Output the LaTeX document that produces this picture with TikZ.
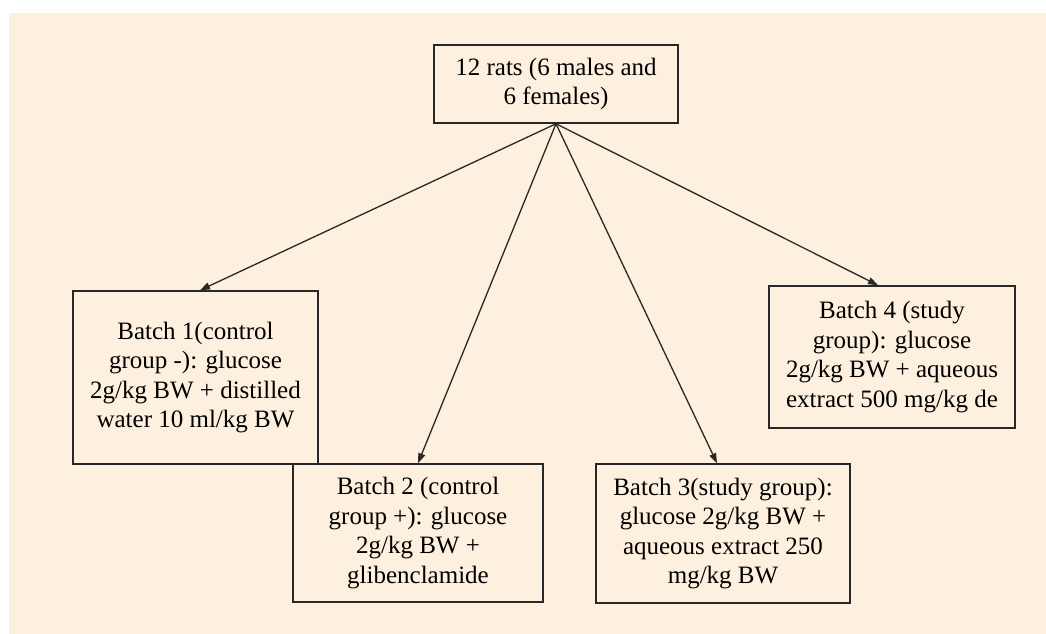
\documentclass[tikz,border=0pt]{standalone}
\usepackage{fontspec}
\setmainfont{Liberation Serif}
\newfontfamily\timesfont{Liberation Serif}
\usetikzlibrary{arrows.meta}
\definecolor{bg}{RGB}{253,240,222}
\definecolor{edge}{RGB}{40,40,40}
\begin{document}
\begin{tikzpicture}[x=1pt,y=-1pt,
  box/.style={draw=edge, line width=1.5pt, fill=bg, align=center, text=black,
    font=\timesfont\fontsize{25}{29.5}\selectfont, inner sep=0pt, anchor=center},
  link/.style={draw=edge, line width=1.3pt, -{Triangle[length=10pt,width=7pt]}}]
\useasboundingbox (0,0) rectangle (1046,634);
\fill[bg] (9,13) rectangle (1046,634);
\node[box, minimum width=244pt, minimum height=78pt] (top) at (556,84)
  {12 rats (6 males and\\6 females)};
\node[box, minimum width=245pt, minimum height=173pt] (b1) at (195.5,377.5)
  {Batch 1(control\\group -): glucose\\2g/kg BW + distilled\\water 10 ml/kg BW};
\node[box, minimum width=250pt, minimum height=138pt] (b2) at (418,533)
  {Batch 2 (control\\group +): glucose\\2g/kg BW +\\glibenclamide};
\node[box, minimum width=254pt, minimum height=139pt] (b3) at (723,533.5)
  {Batch 3(study group):\\glucose 2g/kg BW +\\aqueous extract 250\\mg/kg BW};
\node[box, minimum width=246pt, minimum height=142pt] (b4) at (892,357)
  {Batch 4 (study\\group): glucose\\2g/kg BW + aqueous\\extract 500 mg/kg de};
\draw[link] (top.south) -- ([xshift=4.5pt]b1.north);
\draw[link] (top.south) -- (b2.north);
\draw[link] (top.south) -- ([xshift=-6pt]b3.north);
\draw[link] (top.south) -- ([xshift=-14pt]b4.north);
\end{tikzpicture}
\end{document}
